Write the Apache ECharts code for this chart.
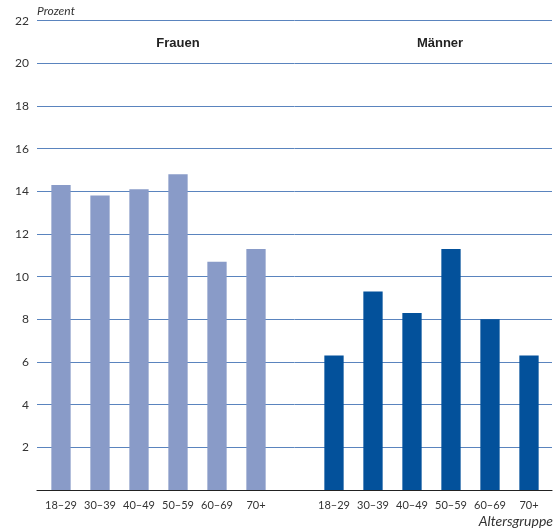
<!DOCTYPE html>
<html>
<head>
<meta charset="utf-8">
<script src="https://cdn.jsdelivr.net/npm/echarts@6/dist/echarts.min.js"></script>
<style>html,body{margin:0;padding:0;background:#fff;}#c{width:557px;height:531px;}</style>
</head>
<body>
<div id="c"></div>
<script>
const categories = ['18–29','30–39','40–49','50–59','60–69','70+','','18–29','30–39','40–49','50–59','60–69','70+'];
const frauen = [14.3, 13.8, 14.1, 14.8, 10.7, 11.3];
const maenner = [6.3, 9.3, 8.3, 11.3, 8.0, 6.3];
const yTicks = [0, 22, 2];

const frauenData = frauen.concat(new Array(7).fill(null));
const maennerData = new Array(7).fill(null).concat(maenner);

const chart = echarts.init(document.getElementById('c'));
const labelFont = 'Lato, "Open Sans", sans-serif';
chart.setOption({
  animation: false,
  grid: [
    {left: 37, right: 5, top: 20.7, bottom: 41},
    {left: 41.5, right: 8.5, top: 20.7, bottom: 41}
  ],
  xAxis: [
    {gridIndex: 0, type: 'category', data: [''], axisLine: {show: true, lineStyle: {color: '#222', width: 1.2}},
     axisTick: {show: false}, axisLabel: {show: false}},
    {gridIndex: 1, type: 'category', data: categories, axisLine: {show: false}, axisTick: {show: false},
     axisLabel: {interval: 0, margin: 10, fontSize: 11, color: '#333', fontFamily: labelFont}}
  ],
  yAxis: [
    {gridIndex: 0, type: 'value', min: yTicks[0], max: yTicks[1], interval: yTicks[2],
     axisLine: {show: false}, axisTick: {show: false},
     splitLine: {show: true, lineStyle: {color: '#5a84be', width: 1}},
     axisLabel: {margin: 8, fontSize: 12, color: '#333', fontFamily: labelFont,
       formatter: v => v === 0 ? '' : String(v)}},
    {gridIndex: 1, type: 'value', min: yTicks[0], max: yTicks[1], interval: yTicks[2], show: false}
  ],
  series: [
    {type: 'bar', xAxisIndex: 1, yAxisIndex: 1, data: frauenData, barWidth: 19.3, barGap: '-100%',
     itemStyle: {color: '#899bc8'}},
    {type: 'bar', xAxisIndex: 1, yAxisIndex: 1, data: maennerData, barWidth: 19.3, barGap: '-100%',
     itemStyle: {color: '#03519b'}}
  ],
  graphic: [
    {type: 'text', left: 37, top: 5, style: {text: 'Prozent', fontSize: 12, fontStyle: 'italic', fill: '#333', fontFamily: labelFont}},
    {type: 'text', right: 4, top: 514, style: {text: 'Altersgruppe', fontSize: 14, fontStyle: 'italic', fill: '#333', fontFamily: labelFont}},
    {type: 'text', x: 178, y: 43, style: {text: 'Frauen', fontSize: 13, fontWeight: 'bold', fill: '#222', align: 'center', verticalAlign: 'middle', fontFamily: '"Liberation Sans", Arial, sans-serif'}},
    {type: 'text', x: 440, y: 43, style: {text: 'Männer', fontSize: 13, fontWeight: 'bold', fill: '#222', align: 'center', verticalAlign: 'middle', fontFamily: '"Liberation Sans", Arial, sans-serif'}}
  ]
});
</script>
</body>
</html>
